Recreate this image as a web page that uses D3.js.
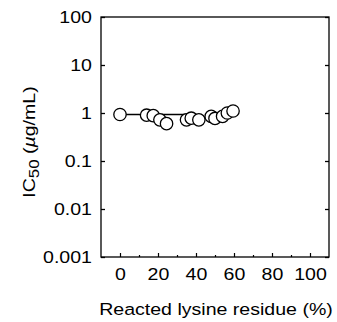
<!DOCTYPE html>
<html>
<head>
<meta charset="utf-8">
<script src="https://cdn.jsdelivr.net/npm/d3@7"></script>
<style>
  body { margin: 0; background: #fff; }
  svg { display: block; }
  text { font-family: 'Liberation Sans', Arial, Helvetica, sans-serif; fill: #000; }
</style>
</head>
<body>
<div id="chart"></div>
<script>
// reacted lysine (%) vs IC50 (ug/mL)
const reacted = [0, 14, 17.5, 21, 24.5, 35, 37.5, 41.5, 48, 50, 54, 56.5, 59.5]
const ic50 = [0.93, 0.9, 0.88, 0.72, 0.6, 0.72, 0.78, 0.72, 0.85, 0.77, 0.85, 1.0, 1.1]
const lineX = [0, 37]
const lineY = 0.93
const xTicks = [0, 20, 40, 60, 80, 100]
const xMinor = [10, 30, 50, 70, 90]
const yTicks = [0.001, 0.01, 0.1, 1, 10, 100]
const yLabels = ['0.001', '0.01', '0.1', '1', '10', '100']

const W = 337, H = 322
const mLeft = 101, mRight = 329, mTop = 17, mBottom = 257
const stretch = 1.2

const svg = d3.select('#chart').append('svg')
	.attr('width', W)
	.attr('height', H)

const x = d3.scaleLinear().domain([-10, 110]).range([mLeft, mRight])
const y = d3.scaleLog().domain([0.001, 100]).range([mBottom, mTop])

// frame
svg.append('rect')
	.attr('x', mLeft).attr('y', mTop)
	.attr('width', mRight - mLeft).attr('height', mBottom - mTop)
	.attr('fill', 'none').attr('stroke', '#000').attr('stroke-width', 1.3)

// left axis
const yAxis = d3.axisLeft(y)
	.tickValues(yTicks)
	.tickSize(-4)
	.tickPadding(9)
	.tickFormat((d, i) => yLabels[i])
const gy = svg.append('g').attr('transform', `translate(${mLeft},0)`).call(yAxis)
gy.select('.domain').remove()
gy.selectAll('line').attr('stroke-width', 1.3)
gy.selectAll('text')
	.attr('font-size', 16.3)
	.attr('x', -9 / stretch)
	.attr('transform', `scale(${stretch},1)`)

// right axis ticks
const gyr = svg.append('g').attr('transform', `translate(${mRight},0)`)
	.call(d3.axisRight(y).tickValues(yTicks).tickSize(-4).tickFormat(''))
gyr.select('.domain').remove()
gyr.selectAll('line').attr('stroke-width', 1.3)

// bottom axis
const xAxis = d3.axisBottom(x)
	.tickValues(xTicks)
	.tickSize(-4)
	.tickPadding(11)
const gx = svg.append('g').attr('transform', `translate(0,${mBottom})`).call(xAxis)
gx.select('.domain').remove()
gx.selectAll('line').attr('stroke-width', 1.2)
gx.selectAll('text')
	.attr('font-size', 16.3)
	.attr('transform', `scale(${stretch},1)`)

const gxm = svg.append('g').attr('transform', `translate(0,${mBottom})`)
	.call(d3.axisBottom(x).tickValues(xMinor).tickSize(-2).tickFormat(''))
gxm.select('.domain').remove()
gxm.selectAll('line').attr('stroke-width', 1.2)

// fit line
svg.append('line')
	.attr('x1', x(lineX[0])).attr('x2', x(lineX[1]))
	.attr('y1', y(lineY)).attr('y2', y(lineY))
	.attr('stroke', '#000').attr('stroke-width', 1.3)

// points
svg.append('g').selectAll('circle')
	.data(reacted)
	.enter()
	.append('circle')
	.attr('cx', d => x(d))
	.attr('cy', (d, i) => y(ic50[i]))
	.attr('r', 6.2)
	.attr('fill', '#fff')
	.attr('stroke', '#000')
	.attr('stroke-width', 1.3)

// x title
svg.append('text')
	.attr('transform', `translate(${(mLeft + mRight) / 2 + 1},315) scale(${stretch},1)`)
	.attr('text-anchor', 'middle')
	.attr('font-size', 16.3)
	.text('Reacted lysine residue (%)')

// y title
const yt = svg.append('text')
	.attr('transform', `translate(35,${(mTop + mBottom) / 2 + 5}) rotate(-90) scale(${stretch},1)`)
	.attr('text-anchor', 'middle')
	.attr('font-size', 16.3)
yt.append('tspan').text('IC')
yt.append('tspan').attr('font-size', 14).attr('dy', 4).text('50')
yt.append('tspan').attr('dy', -4).text(' (')
yt.append('tspan').attr('font-style', 'italic').text('µ')
yt.append('tspan').text('g/mL)')
</script>
</body>
</html>
